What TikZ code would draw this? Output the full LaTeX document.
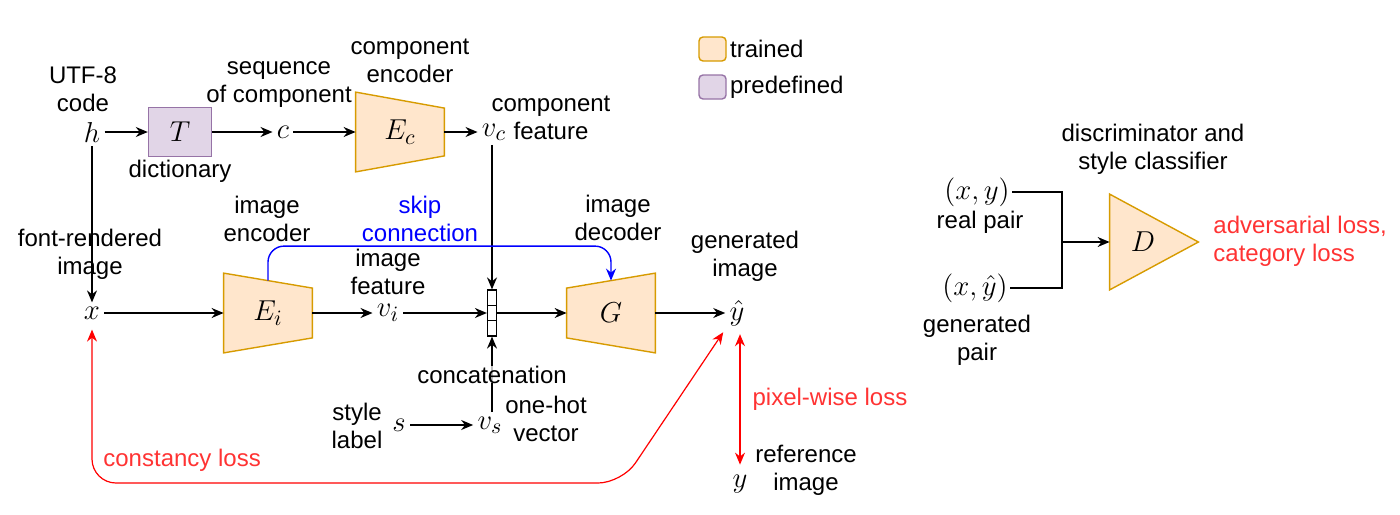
\documentclass[tikz,border=0pt]{standalone}
\usepackage{fontspec}
\setmainfont{Liberation Sans}
\usetikzlibrary{arrows.meta,calc,positioning,backgrounds}
\definecolor{trainfill}{HTML}{FFE6CC}
\definecolor{traindraw}{HTML}{D79B00}
\definecolor{predfill}{HTML}{E1D5E7}
\definecolor{preddraw}{HTML}{9673A6}
\definecolor{losstext}{HTML}{FF3333}
\tikzset{>={Stealth[length=6pt,width=5pt]}}
\tikzset{
  txt/.style={font=\fontsize{12}{14}\selectfont, align=center, inner sep=0pt},
  var/.style={font=\fontsize{15}{17}\selectfont, inner sep=2pt},
  blk/.style={minimum width=44pt, minimum height=39.5pt, inner sep=0pt,
    font=\fontsize{15}{17}\selectfont},
  trained/.style={fill=trainfill, draw=traindraw, line width=0.7pt},
  predef/.style={fill=predfill, draw=preddraw, line width=0.7pt},
  legbox/.style={rounded corners=2pt, minimum width=13.5pt, minimum height=12pt},
  conn/.style={->, line width=0.7pt},
  lossline/.style={draw=red, line width=0.6pt},
  catbox/.style={draw, fill=white, line width=0.6pt, minimum width=4.5pt,
    minimum height=23pt, inner sep=0pt},
}

\begin{document}
\begin{tikzpicture}[x=0.5pt,y=-0.5pt]
  \useasboundingbox (0,0) rectangle (1400,514);

  %% variables
  \node[var] (h) at (92,132) {$h$};
  \node[var] (c) at (283,132) {$c$};
  \node[var] (vc) at (494,132) {$v_c$};
  \node[var] (x) at (92,313) {$x$};
  \node[var] (vi) at (388,313) {$v_i$};
  \node[var] (yhat) at (737,313) {$\hat{y}$};
  \node[var] (s) at (399,425) {$s$};
  \node[var] (vs) at (490,425) {$v_s$};
  \node[var] (y) at (740,484) {$y$};

  %% blocks
  \node[predef, minimum width=31.5pt, minimum height=24.5pt,
  font=\fontsize{15}{17}\selectfont] (T) at (180,132) {$T$};
  \node[blk] (Ec) at (400,132) {$E_c$};
  \node[blk] (Ei) at (268,313) {$E_i$};
  \node[blk] (G) at (611,313) {$G$};
  \node[catbox] (cat) at (492,313) {};
  \draw[line width=0.6pt] ($(cat.north west)!1/3!(cat.south west)$)
  -- ($(cat.north east)!1/3!(cat.south east)$);
  \draw[line width=0.6pt] ($(cat.north west)!2/3!(cat.south west)$)
  -- ($(cat.north east)!2/3!(cat.south east)$);
  \node[minimum width=44pt, minimum height=47.5pt, inner sep=0pt,
  label={[xshift=-5.5pt,font=\fontsize{15}{17}\selectfont]center:$D$}] (D) at (1154,242) {};

  \begin{scope}[on background layer]
    \draw[trained] (Ec.north west) -- ([yshift=-8pt]Ec.north east)
    -- ([yshift=8pt]Ec.south east) -- (Ec.south west) -- cycle;
    \draw[trained] (Ei.north west) -- ([yshift=-7.5pt]Ei.north east)
    -- ([yshift=7.5pt]Ei.south east) -- (Ei.south west) -- cycle;
    \draw[trained] ([yshift=-7.5pt]G.north west) -- (G.north east)
    -- (G.south east) -- ([yshift=7.5pt]G.south west) -- cycle;
    \draw[trained] (D.north west) -- (D.east) -- (D.south west) -- cycle;
  \end{scope}

  %% labels
  \node[txt] (utf) at (83,89) {UTF-8\\code};
  \node[txt] (dict) at (180,171) {dictionary};
  \node[txt] (seq) at (279,85) {sequence\\of component};
  \node[txt] (cenc) at (410,61) {component\\encoder};
  \node[txt] (cfeat) at (551,118) {component\\feature};
  \node[txt] (font) at (90,254) {font-rendered\\image};
  \node[txt] (ienc) at (267,219) {image\\encoder};
  \node[txt, text=blue] (skip) at (420,219) {skip\\connection};
  \node[txt] (ifeat) at (388,272) {image\\feature};
  \node[txt] (idec) at (618,218) {image\\decoder};
  \node[txt] (gen) at (745,256) {generated\\image};
  \node[txt] (style) at (357,426) {style\\label};
  \node[txt] (onehot) at (546,419) {one-hot\\vector};
  \node[txt] (ref) at (806,470) {reference\\image};
  \node[txt, text=losstext, anchor=west] (const) at (103,460) {constancy loss};

  %% legend
  \node[trained, legbox] (leg1) at (712.5,49) {};
  \node[txt, right=1.5pt of leg1] (legt1) {trained};
  \node[predef, legbox] (leg2) at (712.5,87) {};
  \node[txt, right=1.5pt of leg2] (legt2) {predefined};

  %% top row
  \draw[conn] (h) -- (T);
  \draw[conn] (T) -- (c);
  \draw[conn] (c) -- (Ec.west);
  \draw[conn] (Ec.east) -- (Ec.east -| vc.west);
  \draw[conn] (vc.south -| cat.north) -- (cat.north);
  \draw[conn] (h) -- (x);

  %% main row
  \draw[conn] (x) -- (Ei.west);
  \draw[conn] (Ei.east) -- (vi);
  \draw[conn] (vi) -- (cat);
  \draw[conn] (cat) -- (G.west);
  \draw[conn] (G.east) -- (yhat);
  \draw[conn] (s) -- (vs);
  \draw[conn] (cat.south |- vs.north) -- (cat.south)
  node[midway, txt, fill=white, fill opacity=0.75, text opacity=1] (concat) {concatenation};

  %% skip connection
  \draw[->, draw=blue, line width=0.7pt, rounded corners=8pt] ([yshift=-3.75pt]Ei.north)
  |- ($(G.north)+(0,-27)$) -- ([yshift=-3.75pt]G.north);

  %% losses
  \coordinate (lossbot) at (622,483);
  \draw[lossline, <->, rounded corners=12pt] ([yshift=-3pt]x.south) |- (lossbot)
  -- ([xshift=-1pt,yshift=-1pt]yhat.south west);
  \draw[lossline, <->] ([yshift=-2pt]yhat.south -| y.north) -- ([yshift=3pt]y.north)
  node[midway, right=6pt, txt, text=losstext] (pix) {pixel-wise loss};

  %% discriminator
  \node[var, inner sep=1pt] (xy) at (977,192) {$(x,y)$};
  \node[var, inner sep=1pt] (xyh) at (975,288) {$(x,\hat{y})$};
  \node[txt] (real) at (980,222) {real pair};
  \node[txt] (genp) at (977,340) {generated\\pair};
  \node[txt] (disc) at (1153,149) {discriminator and\\style classifier};
  \node[txt, align=left, anchor=west, text=losstext] (adv) at (1213,241)
  {adversarial loss,\\category loss};
  \coordinate (join) at (1062,242);
  \draw[line width=0.7pt] (xy.east) -| (join);
  \draw[line width=0.7pt] (xyh.east) -| (join);
  \draw[conn] (join) -- (D.west);

\end{tikzpicture}
\end{document}
